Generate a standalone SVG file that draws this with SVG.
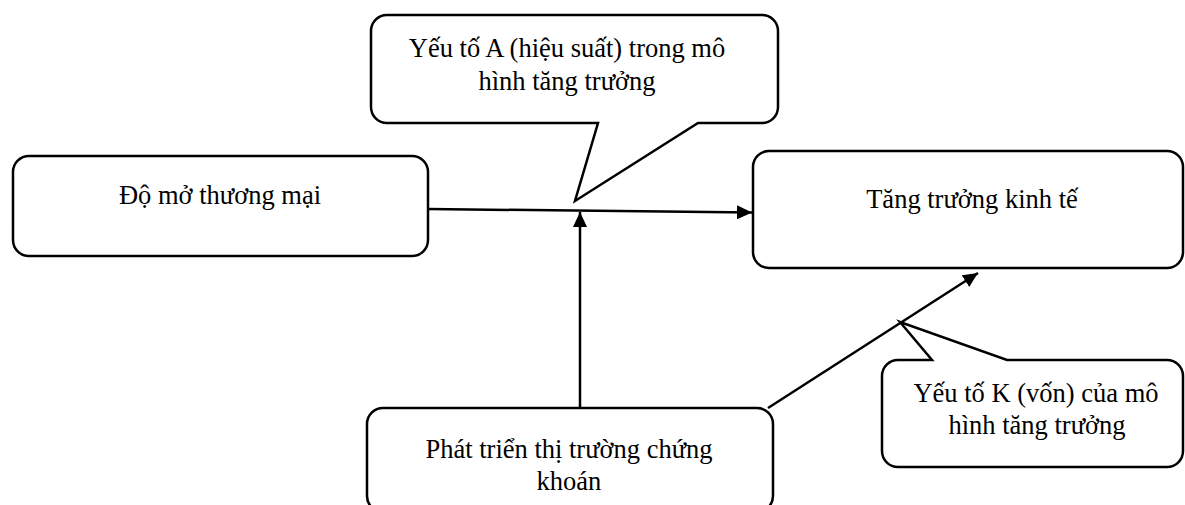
<svg xmlns="http://www.w3.org/2000/svg" width="1185" height="505" viewBox="0 0 1185 505">
<style>
.shape{fill:#fff;stroke:#000;stroke-width:2.5}
.lbl{font-family:"Liberation Serif","Times New Roman",serif;font-size:26.5px;fill:#000;text-anchor:middle}
.conn{stroke:#000;stroke-width:2.5;fill:none;marker-end:url(#arr)}
</style>
<defs>
<marker id="arr" viewBox="0 0 15 14" refX="15" refY="7" markerWidth="15" markerHeight="14" markerUnits="userSpaceOnUse" orient="auto">
<path d="M0,0 L15,7 L0,14 Z" fill="#000"/>
</marker>
</defs>
<rect width="1185" height="505" fill="#fff"/>
<g id="connectors">
<line class="conn" x1="428" y1="209" x2="752" y2="212.5"/>
<line class="conn" x1="580" y1="408" x2="580" y2="212"/>
<line class="conn" x1="768" y1="408" x2="978" y2="273"/>
</g>
<g id="node-callout-a">
<path class="shape" d="M387,15 H762 A16,16 0 0 1 778,31 V107 A16,16 0 0 1 762,123 H698 L575,201 L598,123 H387 A16,16 0 0 1 371,107 V31 A16,16 0 0 1 387,15 Z"/>
<text class="lbl" x="567" y="57">Yếu tố A (hiệu suất) trong mô</text>
<text class="lbl" x="567" y="90">hình tăng trưởng</text>
</g>
<g id="node-do-mo">
<rect class="shape" x="13" y="156" width="415" height="100" rx="16"/>
<text class="lbl" x="220" y="204">Độ mở thương mại</text>
</g>
<g id="node-tang-truong">
<rect class="shape" x="753" y="151" width="430" height="117" rx="16"/>
<text class="lbl" x="972" y="208">Tăng trưởng kinh tế</text>
</g>
<g id="node-phat-trien">
<rect class="shape" x="367" y="408" width="406" height="104" rx="16"/>
<text class="lbl" x="569" y="458">Phát triển thị trường chứng</text>
<text class="lbl" x="569" y="490">khoán</text>
</g>
<g id="node-callout-k">
<path class="shape" d="M898,360 H932 L900,322 L1007,360 H1167 A16,16 0 0 1 1183,376 V451 A16,16 0 0 1 1167,467 H898 A16,16 0 0 1 882,451 V376 A16,16 0 0 1 898,360 Z"/>
<text class="lbl" x="1036" y="402">Yếu tố K (vốn) của mô</text>
<text class="lbl" x="1037" y="434">hình tăng trưởng</text>
</g>
</svg>
